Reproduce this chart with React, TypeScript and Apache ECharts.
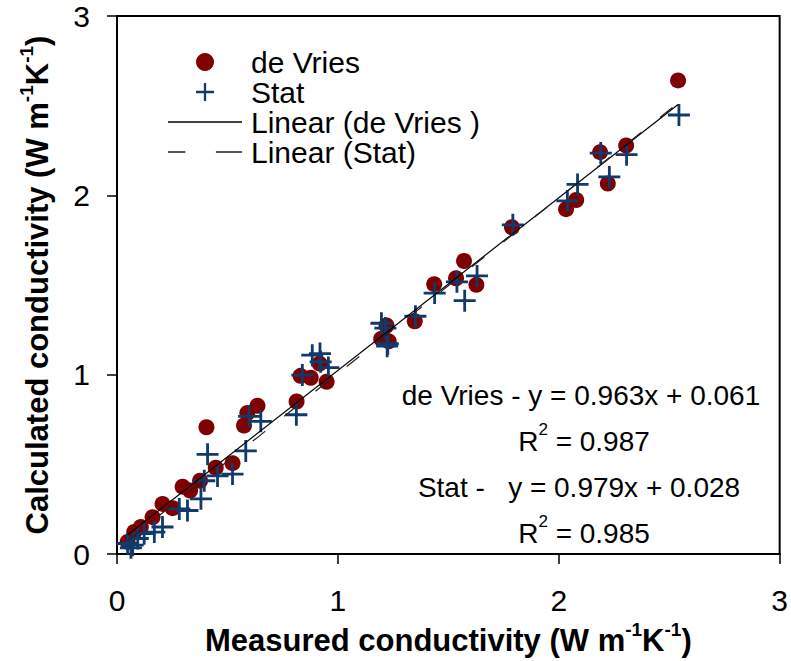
import React, { useEffect, useRef } from "react";
import * as echarts from "echarts";

// de Vries model (red circles)
const deVriesMeasured = [2.54, 2.305, 2.187, 2.222, 2.079, 2.033, 1.788, 1.571, 1.436, 1.535, 1.627, 1.348, 1.22, 1.196, 1.23, 0.917, 0.831, 0.877, 0.949, 0.813, 0.636, 0.59, 0.575, 0.405, 0.523, 0.447, 0.376, 0.297, 0.331, 0.206, 0.252, 0.161, 0.108, 0.078, 0.048];
const deVriesCalculated = [2.641, 2.278, 2.241, 2.066, 1.974, 1.923, 1.822, 1.634, 1.505, 1.538, 1.501, 1.298, 1.275, 1.2, 1.186, 1.062, 0.994, 0.983, 0.961, 0.851, 0.827, 0.786, 0.717, 0.707, 0.507, 0.482, 0.409, 0.376, 0.354, 0.28, 0.256, 0.206, 0.151, 0.123, 0.068];

// Stat model (blue crosses)
const statMeasured = [2.544, 2.307, 2.19, 2.229, 2.085, 2.039, 1.792, 1.63, 1.539, 1.438, 1.574, 1.351, 1.197, 1.215, 1.226, 1.223, 0.884, 0.919, 0.922, 0.957, 0.839, 0.812, 0.598, 0.651, 0.583, 0.41, 0.523, 0.455, 0.395, 0.38, 0.319, 0.282, 0.206, 0.169, 0.123, 0.094, 0.071, 0.048, 0.063];
const statCalculated = [2.448, 2.227, 2.236, 2.103, 2.061, 1.969, 1.836, 1.551, 1.518, 1.455, 1.413, 1.326, 1.287, 1.26, 1.173, 1.159, 1.109, 1.118, 1.072, 1.04, 0.998, 0.777, 0.768, 0.74, 0.575, 0.556, 0.446, 0.436, 0.409, 0.308, 0.243, 0.252, 0.151, 0.123, 0.114, 0.087, 0.05, 0.059, 0.035];

// Linear fits
const deVriesFit = { slope: 0.963, intercept: 0.061, r2: 0.987 };
const statFit = { slope: 0.979, intercept: 0.028, r2: 0.985 };

const axisTicks = [0, 1, 2, 3];
const seriesNames = ["de Vries", "Stat", "Linear (de Vries )", "Linear (Stat)"];

const FONT = "'Liberation Sans', Arial, sans-serif";
const RED = "#7f0000";
const BLUE = "#0f3a6b";
const PLUS = "path://M-1.4,-11H1.4V-1.4H11V1.4H1.4V11H-1.4V1.4H-11V-1.4H-1.4Z";
const SOLID_ICON = "path://M0,0H74V1.3H0Z";
const DASH_ICON = "path://M0,0H16V1.2H0ZM44,0H68V1.2H44Z";

function fitLine(xs: number[], fit: { slope: number; intercept: number }) {
  const lo = Math.min(...xs);
  const hi = Math.max(...xs);
  return [
    [lo, fit.slope * lo + fit.intercept],
    [hi, fit.slope * hi + fit.intercept],
  ];
}

export default function App() {
  const ref = useRef<HTMLDivElement>(null);
  useEffect(() => {
    if (!ref.current) return;
    const chart = echarts.init(ref.current, null, { renderer: "svg" });
    const annoRich = {
      n: { fontSize: 28, lineHeight: 34, verticalAlign: "bottom", fontFamily: FONT, color: "#000" },
      sup: { fontSize: 17, lineHeight: 17, verticalAlign: "top", fontFamily: FONT, color: "#000" },
    };
    const nameRich = {
      b: { fontSize: 31, fontWeight: "bold", lineHeight: 36, verticalAlign: "bottom", fontFamily: FONT, color: "#000" },
      s: { fontSize: 19, fontWeight: "bold", lineHeight: 19, verticalAlign: "top", fontFamily: FONT, color: "#000" },
    };
    const annoText = (text: string, y: number, x = 580) => ({
      type: "text",
      x,
      y,
      style: {
        text,
        rich: annoRich,
        align: "center",
        verticalAlign: "middle",
        fontSize: 28,
        fontFamily: FONT,
        fill: "#000",
      },
    });
    chart.setOption({
      animation: false,
      backgroundColor: "#fff",
      grid: {
        left: 117,
        top: 16,
        right: 11,
        bottom: 102,
        show: true,
        borderColor: "#000",
        borderWidth: 2,
        backgroundColor: "transparent",
      },
      xAxis: {
        type: "value",
        min: axisTicks[0],
        max: axisTicks[axisTicks.length - 1],
        interval: 1,
        name: "{b|Measured conductivity (W m}{s|-1}{b|K}{s|-1}{b|)}",
        nameLocation: "middle",
        nameGap: 59,
        nameTextStyle: { rich: nameRich },
        axisLine: { lineStyle: { color: "#000", width: 2 } },
        axisTick: { show: true, inside: false, length: 10, lineStyle: { color: "#000", width: 1.5 } },
        axisLabel: { fontSize: 30, color: "#000", fontFamily: FONT, margin: 31 },
        splitLine: { show: false },
      },
      yAxis: {
        type: "value",
        min: axisTicks[0],
        max: axisTicks[axisTicks.length - 1],
        interval: 1,
        name: "{b|Calculated conductivity (W m}{s|-1}{b|K}{s|-1}{b|)}",
        nameLocation: "middle",
        nameGap: 64,
        nameTextStyle: { rich: nameRich },
        axisLine: { lineStyle: { color: "#000", width: 2 } },
        axisTick: { show: true, inside: false, length: 10, lineStyle: { color: "#000", width: 1.5 } },
        axisLabel: { fontSize: 30, color: "#000", fontFamily: FONT, margin: 27 },
        splitLine: { show: false },
      },
      legend: {
        orient: "vertical",
        left: 163,
        top: 42,
        itemWidth: 74,
        itemHeight: 18,
        itemGap: 0,
        selectedMode: false,
        data: [
          { name: seriesNames[0], icon: "circle" },
          { name: seriesNames[1], icon: PLUS },
          { name: seriesNames[2], icon: SOLID_ICON },
          { name: seriesNames[3], icon: DASH_ICON },
        ],
        textStyle: { fontSize: 30, color: "#000", fontFamily: FONT, padding: [0, 0, 0, 4] },
      },
      series: [
        {
          name: seriesNames[0],
          type: "scatter",
          symbol: "circle",
          symbolSize: 16,
          itemStyle: { color: RED, opacity: 1 },
          data: deVriesMeasured.map((x, i) => [x, deVriesCalculated[i]]),
          z: 2,
        },
        {
          name: seriesNames[1],
          type: "scatter",
          symbol: PLUS,
          symbolSize: 22,
          symbolKeepAspect: true,
          itemStyle: { color: BLUE, opacity: 1 },
          data: statMeasured.map((x, i) => [x, statCalculated[i]]),
          z: 3,
        },
        {
          name: seriesNames[2],
          type: "line",
          symbol: "none",
          showSymbol: false,
          lineStyle: { color: "#000", width: 1.2, type: "solid" },
          itemStyle: { color: "#000" },
          data: fitLine(deVriesMeasured, deVriesFit),
          z: 4,
        },
        {
          name: seriesNames[3],
          type: "line",
          symbol: "none",
          showSymbol: false,
          lineStyle: { color: "#222", width: 1.2, type: [16, 24] },
          itemStyle: { color: "#222" },
          data: fitLine(statMeasured, statFit),
          z: 4,
        },
      ],
      graphic: [
        annoText(`{n|de Vries - y = ${deVriesFit.slope}x + ${deVriesFit.intercept}}`, 392, 581),
        annoText(`{n|R}{sup|2}{n| = ${deVriesFit.r2}}`, 438, 584),
        annoText(`{n|Stat -   y = ${statFit.slope}x + ${statFit.intercept}}`, 484, 579),
        annoText(`{n|R}{sup|2}{n| = ${statFit.r2}}`, 530, 584),
      ],
    });
    return () => chart.dispose();
  }, []);
  return <div ref={ref} style={{ width: 791, height: 661, position: "absolute", left: 0, top: 0 }} />;
}
